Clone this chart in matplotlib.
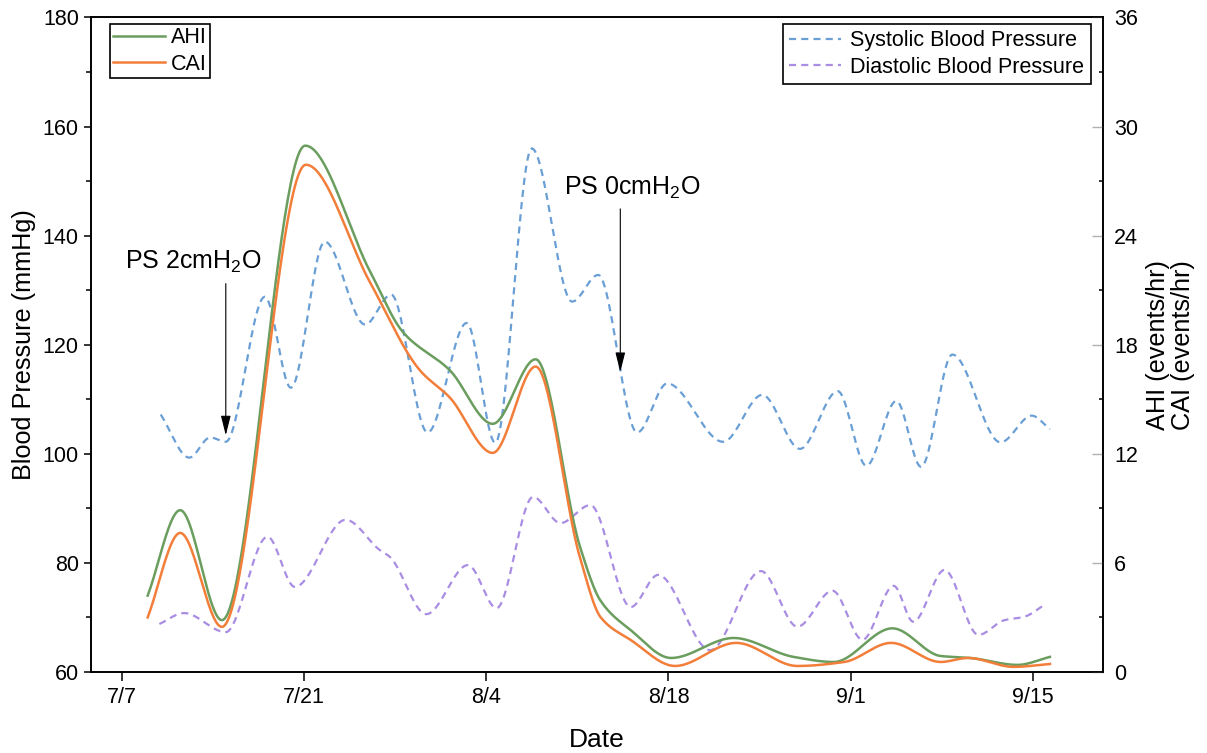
import numpy as np
import matplotlib
matplotlib.use('Agg')
import matplotlib.pyplot as plt
from matplotlib.ticker import MultipleLocator

plt.rcParams['font.family'] = ['Liberation Sans', 'DejaVu Sans']
plt.rcParams['mathtext.fontset'] = 'custom'
plt.rcParams['mathtext.rm'] = 'Liberation Sans'
plt.rcParams['mathtext.it'] = 'Liberation Sans'

# days counted from 7/7
sys_day = [3.0, 5.2, 6.8, 8.0, 11.0, 13.0, 15.6, 18.7, 20.7, 23.5, 26.5, 28.7, 31.5,
           34.6, 36.6, 39.6, 41.9, 46.2, 49.2, 52.1, 55.0, 57.2, 59.5, 61.4, 63.8,
           67.5, 69.9, 71.3]
sys_bp = [107.2, 99.3, 103.0, 102.2, 128.8, 112.1, 138.9, 123.7, 129.2, 103.9, 124.0,
          102.0, 156.0, 127.9, 132.8, 103.9, 112.9, 102.2, 110.8, 100.9, 111.5, 97.8,
          109.7, 97.6, 118.2, 102.1, 107.0, 104.5]

dia_day = [2.9, 4.8, 8.0, 11.2, 13.3, 17.2, 19.8, 20.6, 23.4, 26.6, 28.8, 31.6, 33.7,
           36.0, 39.1, 41.2, 45.2, 49.1, 51.9, 54.6, 56.9, 59.3, 60.8, 63.2, 65.8,
           67.8, 69.3, 71.0]
dia_bp = [68.8, 70.8, 67.3, 84.8, 75.6, 87.9, 82.4, 81.1, 70.6, 79.6, 71.7, 92.1, 87.3,
          90.6, 71.9, 77.8, 64.0, 78.5, 68.3, 74.9, 65.9, 75.8, 69.2, 78.7, 66.8, 69.5,
          70.1, 72.5]

ahi_day = [2.0, 4.5, 7.7, 14.1, 19.1, 21.6, 25.2, 28.5, 31.8, 35.2, 36.8, 39.1, 42.2,
           47.0, 51.6, 54.7, 59.2, 62.9, 65.2, 68.8, 71.3]
ahi = [4.2, 8.9, 2.85, 28.95, 22.0, 18.7, 16.6, 13.65, 17.2, 6.9, 3.9, 2.3, 0.77,
       1.87, 0.83, 0.55, 2.4, 0.88, 0.77, 0.39, 0.83]

cai_day = [2.0, 4.5, 7.7, 14.15, 19.1, 22.9, 25.2, 28.5, 31.8, 35.2, 36.8, 39.1, 42.5,
           47.2, 51.9, 55.5, 59.1, 62.9, 65.0, 68.5, 71.3]
cai = [3.0, 7.65, 2.48, 27.9, 21.4, 16.6, 15.1, 12.05, 16.8, 6.3, 3.0, 1.76, 0.33,
       1.6, 0.33, 0.55, 1.6, 0.55, 0.77, 0.28, 0.44]

tick_days = [0, 14, 28, 42, 56, 70]
tick_labels = ['7/7', '7/21', '8/4', '8/18', '9/1', '9/15']


def pchip(x, y, n=600):
    # monotone cubic through the read points, for a smooth line
    x = np.asarray(x, float)
    y = np.asarray(y, float)
    h = np.diff(x)
    d = np.diff(y) / h
    m = np.zeros_like(y)
    for k in range(1, len(x) - 1):
        if d[k - 1] * d[k] > 0:
            w1 = 2 * h[k] + h[k - 1]
            w2 = h[k] + 2 * h[k - 1]
            m[k] = (w1 + w2) / (w1 / d[k - 1] + w2 / d[k])
    m[0] = d[0]
    m[-1] = d[-1]
    xs = np.linspace(x[0], x[-1], n)
    i = np.clip(np.searchsorted(x, xs) - 1, 0, len(x) - 2)
    t = (xs - x[i]) / h[i]
    h00 = 2 * t**3 - 3 * t**2 + 1
    h10 = t**3 - 2 * t**2 + t
    h01 = -2 * t**3 + 3 * t**2
    h11 = t**3 - t**2
    ys = h00 * y[i] + h10 * h[i] * m[i] + h01 * y[i + 1] + h11 * h[i] * m[i + 1]
    return xs, ys


fig = plt.figure(figsize=(12.07, 7.53), dpi=100)
ax = fig.add_axes([0.0751, 0.1076, 0.8387, 0.8692])
ax2 = ax.twinx()

c_sys = '#6a9fd6'
c_dia = '#a98de3'
c_ahi = '#6b9e5e'
c_cai = '#f27e3a'

xs, ys = pchip(sys_day, sys_bp)
ax.plot(xs, ys, color=c_sys, lw=1.6, dashes=(3.2, 2.3), label='Systolic Blood Pressure')
xs, ys = pchip(dia_day, dia_bp)
ax.plot(xs, ys, color=c_dia, lw=1.6, dashes=(3.2, 2.3), label='Diastolic Blood Pressure')

xs, ys = pchip(ahi_day, ahi)
ax2.plot(xs, ys, color=c_ahi, lw=1.8, label='AHI')
xs, ys = pchip(cai_day, cai)
ax2.plot(xs, ys, color=c_cai, lw=1.8, label='CAI')

ax.set_xlim(-2.38, 75.37)
ax.set_ylim(60, 180)
ax2.set_ylim(0, 36)
ax.set_xticks(tick_days)
ax.set_xticklabels(tick_labels)
ax.yaxis.set_major_locator(MultipleLocator(20))
ax.yaxis.set_minor_locator(MultipleLocator(10))
ax2.yaxis.set_major_locator(MultipleLocator(6))
ax2.yaxis.set_minor_locator(MultipleLocator(3))

fs = 15.5
ax.tick_params(axis='y', which='major', direction='out', length=5.3, width=1.1,
               labelsize=fs, pad=3.2)
ax.tick_params(axis='y', which='minor', direction='out', length=3.4, width=1.1)
ax.tick_params(axis='x', which='major', direction='out', length=6.5, width=1.1,
               labelsize=fs, pad=4)
ax2.tick_params(axis='y', which='major', direction='in', length=8, width=1.0,
                color='#b0b0b0', labelsize=fs, pad=8)
ax2.tick_params(axis='y', which='minor', direction='in', length=3, width=1.1)
for a in (ax, ax2):
    for s in a.spines.values():
        s.set_linewidth(1.2)

ax.set_xlabel('Date', fontsize=19, labelpad=15)
ax.set_ylabel('Blood Pressure (mmHg)', fontsize=18.2, labelpad=5)
ax2.set_ylabel('AHI (events/hr)\nCAI (events/hr)', fontsize=18.2, labelpad=6,
               linespacing=1.05)

# annotations
ax.annotate('', xy=(8.0, 103.4), xytext=(8.0, 131.2),
            arrowprops=dict(arrowstyle='-|>,head_length=1.2,head_width=0.3',
                            color='black', lw=0.8, mutation_scale=10,
                            shrinkA=0, shrinkB=0))
ax.text(5.5, 133.9, 'PS 2cmH$_2$O', fontsize=18, ha='center', va='baseline')
ax.annotate('', xy=(38.3, 115.0), xytext=(38.3, 144.9),
            arrowprops=dict(arrowstyle='-|>,head_length=1.2,head_width=0.3',
                            color='black', lw=0.8, mutation_scale=10,
                            shrinkA=0, shrinkB=0))
ax.text(39.2, 147.5, 'PS 0cmH$_2$O', fontsize=18, ha='center', va='baseline')

leg_kw = dict(fontsize=fs, frameon=True, fancybox=False, framealpha=1,
              edgecolor='black', handlelength=2.4, labelspacing=0.25,
              borderaxespad=0)
l1 = ax2.legend(loc='upper left', bbox_to_anchor=(0.019, 0.990),
                handletextpad=0.28, borderpad=0.15, **leg_kw)
l1.get_frame().set_linewidth(1.2)
l2 = ax.legend(loc='upper right', bbox_to_anchor=(0.988, 0.990),
               handletextpad=0.45, borderpad=0.3, **leg_kw)
l2.get_frame().set_linewidth(1.2)

fig.savefig('out.png', dpi=100)
